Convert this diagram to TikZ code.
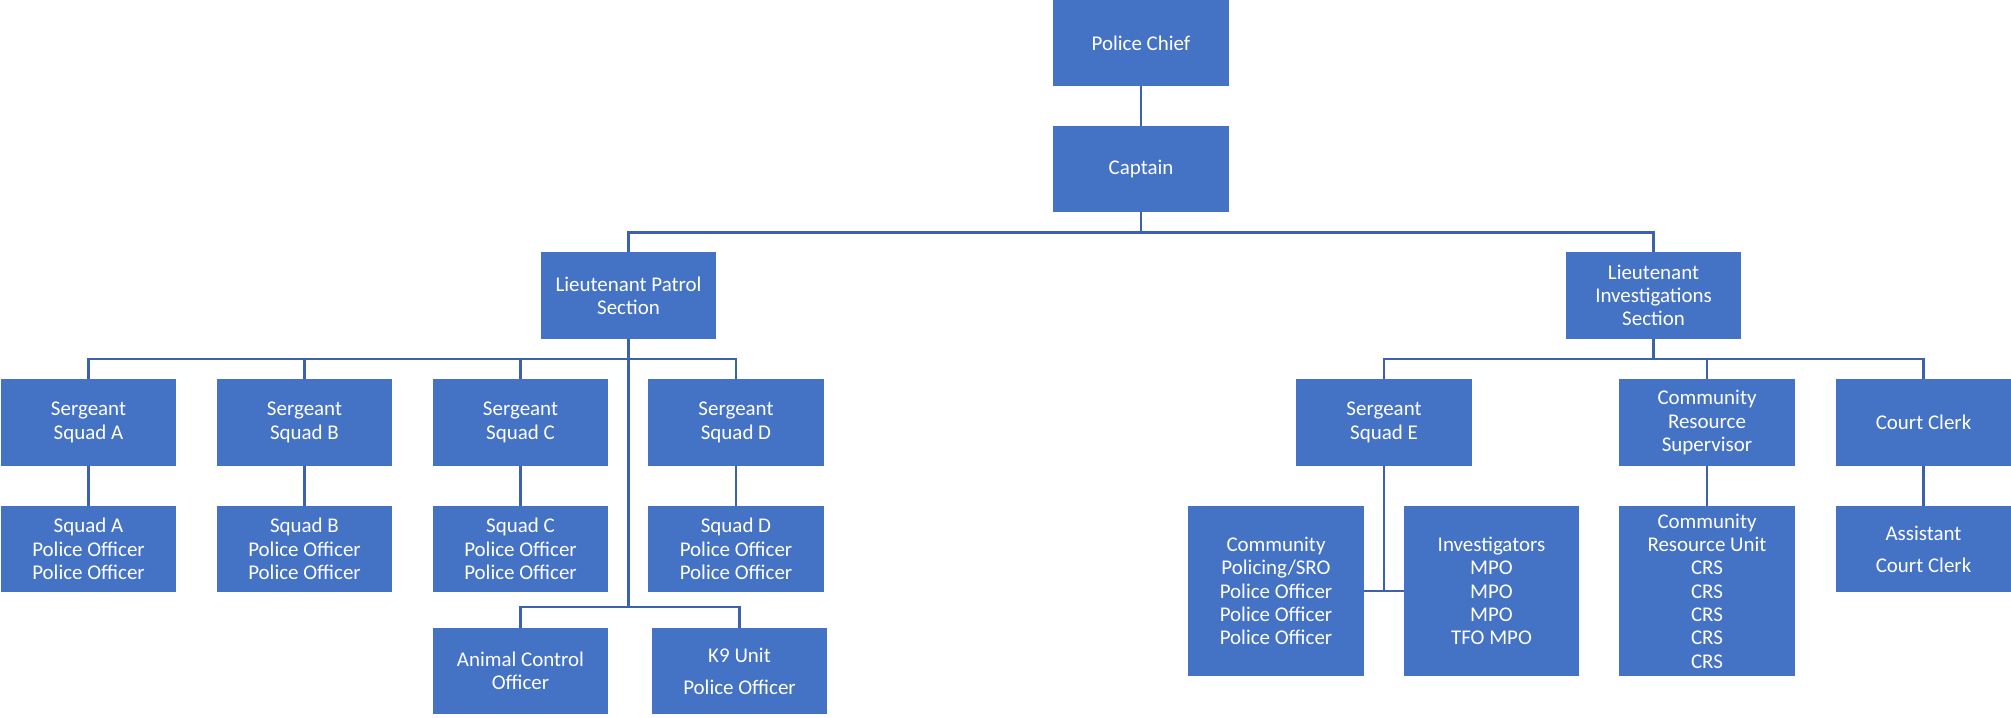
\documentclass[tikz,border=0pt]{standalone}
\usepackage{fontspec}
\setmainfont{Carlito}
\usetikzlibrary{positioning}
\definecolor{boxblue}{HTML}{4472C4}
\definecolor{linkblue}{HTML}{3B62AA}
\tikzset{
  unitbox/.style={fill=boxblue, text=white, align=center, inner sep=0pt,
    minimum width=4.375cm, minimum height=2.15cm,
    font=\fontsize{14.9pt}{16.6pt}\selectfont},
  tallbox/.style={unitbox, minimum height=4.25cm},
  link/.style={draw=linkblue, line width=1.8pt}
}

\begin{document}
\begin{tikzpicture}[x=0.025cm,y=-0.025cm]
  \useasboundingbox (0,0) rectangle (2011,717);
  % command
  \node[unitbox] (chief) at (1141,43) {Police Chief};
  \node[unitbox] (captain) at (1141,169) {Captain};
  \node[unitbox] (ltpatrol) at (628.5,295.5) {Lieutenant Patrol\\Section};
  \node[unitbox] (ltinv) at (1653.5,295.5) {Lieutenant\\Investigations\\Section};
  % patrol section
  \node[unitbox] (sgta) at (88.5,422.5) {Sergeant\\Squad A};
  \node[unitbox] (sgtb) at (304.5,422.5) {Sergeant\\Squad B};
  \node[unitbox] (sgtc) at (520.5,422.5) {Sergeant\\Squad C};
  \node[unitbox] (sgtd) at (736,422.5) {Sergeant\\Squad D};
  \node[unitbox] (squada) at (88.5,549) {Squad A\\Police Officer\\Police Officer};
  \node[unitbox] (squadb) at (304.5,549) {Squad B\\Police Officer\\Police Officer};
  \node[unitbox] (squadc) at (520.5,549) {Squad C\\Police Officer\\Police Officer};
  \node[unitbox] (squadd) at (736,549) {Squad D\\Police Officer\\Police Officer};
  \node[unitbox] (animal) at (520.5,671) {Animal Control\\Officer};
  \node[unitbox] (kunit) at (739.5,671) {K9 Unit\\[0.22cm]Police Officer};
  % investigations section
  \node[unitbox] (sgte) at (1384,422.5) {Sergeant\\Squad E};
  \node[unitbox] (crsup) at (1707,422.5) {Community\\Resource\\Supervisor};
  \node[unitbox] (clerk) at (1923.5,422.5) {Court Clerk};
  \node[tallbox] (policing) at (1276,591) {Community\\Policing/SRO\\Police Officer\\Police Officer\\Police Officer};
  \node[tallbox] (invest) at (1491.5,591) {Investigators\\MPO\\MPO\\MPO\\TFO MPO};
  \node[tallbox] (crunit) at (1707,591) {Community\\Resource Unit\\CRS\\CRS\\CRS\\CRS\\CRS};
  \node[unitbox] (assist) at (1923.5,549) {Assistant\\[0.22cm]Court Clerk};
  \coordinate (lowbus) at (628.5,607);

  % connectors
  \draw[link] (chief) -- (captain);
  \draw[link] (captain.south) -- ++(0,20) -| (ltpatrol.north);
  \draw[link] (captain.south) -- ++(0,20) -| (ltinv.north);
  \foreach \s in {sgta,sgtb,sgtc,sgtd}
    \draw[link] (ltpatrol.south) -- ++(0,20) -| (\s.north);
  \draw[link] (sgta) -- (squada);
  \draw[link] (sgtb) -- (squadb);
  \draw[link] (sgtc) -- (squadc);
  \draw[link] (sgtd) -- (squadd);
  \draw[link] (ltpatrol.south) -- (lowbus) -| (animal.north);
  \draw[link] (lowbus) -| (kunit.north);
  \foreach \s in {sgte,crsup,clerk}
    \draw[link] (ltinv.south) -- ++(0,20) -| (\s.north);
  \draw[link] (sgte.south) -- (sgte.south |- policing.east);
  \draw[link] (policing.east) -- (invest.west);
  \draw[link] (crsup) -- (crunit);
  \draw[link] (clerk) -- (assist);
\end{tikzpicture}
\end{document}
